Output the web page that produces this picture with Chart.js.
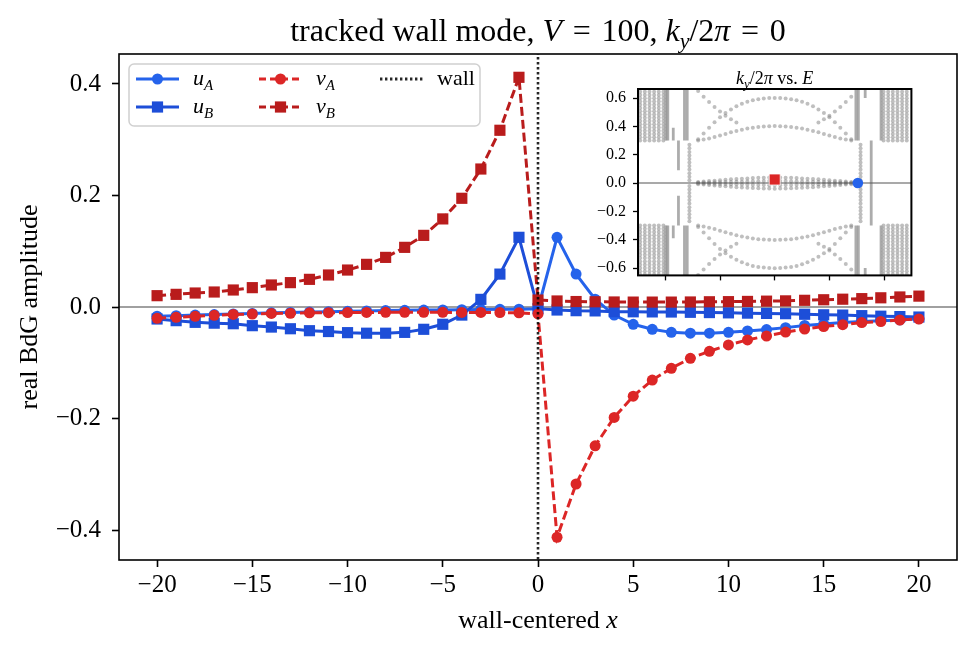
<!DOCTYPE html>
<html>
<head>
<meta charset="utf-8">
<script src="https://cdn.jsdelivr.net/npm/chart.js@4.4.1/dist/chart.umd.min.js"></script>
<style>
  html, body { margin: 0; padding: 0; background: #fff; }
  #wrap { position: relative; width: 974px; height: 650px; }
  #main { position: absolute; left: 0; top: 0; }
  #inset { position: absolute; left: 578px; top: 64px; }
</style>
</head>
<body>
<div id="wrap">
  <canvas id="main" width="974" height="650"></canvas>
  <canvas id="inset" width="342" height="228"></canvas>
</div>
<script>
// ---- main panel data (wall-centered x, real BdG amplitudes) ----
const xs = [-20,-19,-18,-17,-16,-15,-14,-13,-12,-11,-10,-9,-8,-7,-6,-5,-4,-3,-2,-1,
            0,1,2,3,4,5,6,7,8,9,10,11,12,13,14,15,16,17,18,19,20];
const uA = [-0.0165,-0.0155,-0.0145,-0.0135,-0.0125,-0.0115,-0.0105,-0.0098,-0.009,-0.0083,
            -0.0077,-0.007,-0.0064,-0.006,-0.0056,-0.0052,-0.0048,-0.0045,-0.0042,-0.004,
            -0.003,
            0.125,0.059,0.014,-0.0145,-0.031,-0.040,-0.0455,-0.047,-0.047,-0.0455,
            -0.043,-0.0405,-0.037,-0.033,-0.0305,-0.028,-0.026,-0.0245,-0.0232,-0.021];
const uB = [-0.0215,-0.0245,-0.0275,-0.029,-0.030,-0.0335,-0.036,-0.039,-0.0425,-0.044,
            -0.046,-0.047,-0.047,-0.0455,-0.040,-0.031,-0.0145,0.0137,0.059,0.125,
            -0.003,
            -0.0054,-0.0066,-0.007,-0.0084,-0.0086,-0.0088,-0.009,-0.0095,-0.010,-0.0105,
            -0.011,-0.0115,-0.012,-0.013,-0.014,-0.0145,-0.0155,-0.0165,-0.0172,-0.018];
const vA = [-0.0203,-0.0185,-0.0167,-0.015,-0.0133,-0.0126,-0.0116,-0.0112,-0.0105,-0.0102,
            -0.010,-0.0098,-0.0096,-0.0095,-0.0095,-0.0096,-0.0097,-0.0098,-0.0100,-0.0104,
            -0.0125,
            -0.413,-0.3175,-0.249,-0.198,-0.160,-0.131,-0.110,-0.092,-0.0795,-0.068,
            -0.059,-0.052,-0.045,-0.0395,-0.035,-0.0317,-0.028,-0.026,-0.0233,-0.0215];
const vB = [0.0203,0.0227,0.0251,0.0269,0.0305,0.0347,0.0395,0.0437,0.0496,0.0574,
            0.0663,0.0765,0.089,0.107,0.1285,0.158,0.195,0.2475,0.317,0.412,
            0.0125,
            0.0108,0.0098,0.0094,0.009,0.0088,0.0088,0.0088,0.009,0.0094,0.0096,
            0.010,0.0105,0.011,0.012,0.013,0.014,0.015,0.0165,0.018,0.0195];
const xTicks = [-20,-15,-10,-5,0,5,10,15,20];
const yTicks = [-0.4,-0.2,0,0.2,0.4];
const wallX = 0;

// ---- inset data (k_y/2pi vs E spectrum) ----
const kBulk = [-0.492,-0.475,-0.458,-0.441,-0.424,-0.407,0.398,0.415,0.432,0.449,0.466,0.483];
const eBulk = [0.30,0.323,0.346,0.369,0.392,0.415,0.438,0.461,0.484,0.507,0.53,0.553,0.576,0.599,0.622,0.645];
const kEdgeCols = [-0.312,0.314];
const eEdgeCols = [0.02,0.045,0.07,0.095,0.12,0.145,0.17,0.195,0.22,0.245,0.27];
const kMid = [-0.28,-0.26,-0.24,-0.22,-0.20,-0.18,-0.16,-0.14,-0.12,-0.10,-0.08,-0.06,-0.04,-0.02,0,
              0.02,0.04,0.06,0.08,0.10,0.12,0.14,0.16,0.18,0.20,0.22,0.24,0.26,0.28];
const bandHi = [0.31,0.35,0.39,0.43,0.465,0.495,0.52,0.542,0.56,0.574,0.585,0.592,0.597,0.6,0.601,
                0.6,0.597,0.592,0.585,0.574,0.56,0.542,0.52,0.495,0.465,0.43,0.39,0.35,0.31];
const bandLo = [0.30,0.307,0.315,0.325,0.336,0.347,0.358,0.368,0.377,0.385,0.391,0.396,0.399,0.401,0.402,
                0.401,0.399,0.396,0.391,0.385,0.377,0.368,0.358,0.347,0.336,0.325,0.315,0.307,0.30];
const bandV = [0.65,0.61,0.572,0.537,0.505,0.476,0.45,0.428,null,null,null,null,null,null,null,
               null,null,null,null,null,null,null,0.428,0.45,0.476,0.505,0.537,0.572,0.61];
const zeroHi = [0.008,0.011,0.014,0.017,0.02,0.023,0.026,0.029,0.031,0.033,0.035,0.037,0.038,0.039,0.04,
                0.039,0.038,0.037,0.035,0.033,0.031,0.029,0.026,0.023,0.02,0.017,0.014,0.011,0.008];
const zeroLo = [0.002,0.003,0.004,0.005,0.006,0.007,0.008,0.009,0.01,0.011,0.012,0.013,0.014,0.015,0.015,
                0.015,0.014,0.013,0.012,0.011,0.01,0.009,0.008,0.007,0.006,0.005,0.004,0.003,0.002];
// dense vertical runs of levels: [k, E from, E to]
const levelRuns = [
  [-0.398,0.30,0.67],[-0.391,0.30,0.67],[-0.398,-0.67,-0.30],[-0.391,-0.67,-0.30],
  [-0.371,0.30,0.39],[-0.371,-0.39,-0.30],[-0.352,0.09,0.30],[-0.352,-0.30,-0.09],
  [-0.330,0.30,0.67],[-0.320,0.30,0.67],[-0.330,-0.67,-0.30],[-0.320,-0.67,-0.30],
  [0.297,0.30,0.67],[0.306,0.30,0.67],[0.297,-0.67,-0.30],[0.306,-0.67,-0.30],
  [0.331,0.60,0.67],[0.331,-0.67,-0.60],[0.353,-0.30,0.30],
  [0.389,0.30,0.67],[0.389,-0.67,-0.30]
];
const trackedE = 0.025;      // red marker, k = 0
const wallModeK = 0.304;     // blue marker, E = 0
const insetYTicks = [-0.6,-0.4,-0.2,0,0.2,0.4,0.6];
const insetXTicks = [-0.4,-0.2,0,0.2,0.4];

const FAM = '"Liberation Serif", "Times New Roman", serif';
const BLUE_A = '#2563eb', BLUE_B = '#1d4ed8', RED_A = '#dc2626', RED_B = '#b91c1c';
const DASH = [9, 4];
const LW = 3;

const fmt = (v, d) => (v < -1e-9 ? '\u2212' : '') + Math.abs(v).toFixed(d);
const pts = arr => xs.map((x, i) => ({ x: x, y: arr[i] }));

// draws mixed roman / italic / subscript text
function rich(ctx, parts, x, y, size, align) {
  const font = st => (st === 'r' ? '' : 'italic ') + (st === 's' ? Math.round(size * 0.7) : size) + 'px ' + FAM;
  let w = 0;
  parts.forEach(([t, st]) => { ctx.font = font(st); w += ctx.measureText(t).width; });
  let cx = align === 'center' ? x - w / 2 : x;
  ctx.textAlign = 'left';
  parts.forEach(([t, st]) => {
    ctx.font = font(st);
    ctx.fillText(t, cx, st === 's' ? y + size * 0.22 : y);
    cx += ctx.measureText(t).width;
  });
}

function marker(ctx, kind, x, y, color) {
  ctx.fillStyle = color;
  ctx.beginPath();
  if (kind === 'circle') ctx.arc(x, y, 5.5, 0, Math.PI * 2);
  else ctx.rect(x - 5.6, y - 5.6, 11.2, 11.2);
  ctx.fill();
}

const legendItems = [
  { col: 0, row: 0, label: [['u', 'i'], ['A', 's']], color: BLUE_A, dash: [], mark: 'circle' },
  { col: 0, row: 1, label: [['u', 'i'], ['B', 's']], color: BLUE_B, dash: [], mark: 'rect' },
  { col: 1, row: 0, label: [['v', 'i'], ['A', 's']], color: RED_A, dash: [7, 4], mark: 'circle' },
  { col: 1, row: 1, label: [['v', 'i'], ['B', 's']], color: RED_B, dash: [7, 4], mark: 'rect' },
  { col: 2, row: 0, label: [['wall', 'r']], color: 'rgba(0,0,0,0.85)', dash: [2.4, 2.6], mark: null }
];

const mainDeco = {
  id: 'mainDeco',
  afterDatasetsDraw(chart) {
    const { ctx, chartArea: a } = chart;
    ctx.save();
    ctx.strokeStyle = '#000';
    ctx.lineWidth = 1.6;
    ctx.strokeRect(a.left, a.top, a.right - a.left, a.bottom - a.top);
    ctx.restore();
  },
  afterDraw(chart) {
    const { ctx, chartArea: a } = chart;
    const mid = (a.left + a.right) / 2;
    ctx.save();
    ctx.fillStyle = '#000';
    ctx.textBaseline = 'alphabetic';
    rich(ctx, [['tracked wall mode, ', 'r'], ['V', 'i'], ['\u2004=\u2004100, ', 'r'], ['k', 'i'], ['y', 's'],
               ['/2', 'r'], ['\u03c0', 'i'], ['\u2004=\u20040', 'r']], mid, 41, 32, 'center');
    rich(ctx, [['wall-centered ', 'r'], ['x', 'i']], mid, 628, 26, 'center');
    ctx.save();
    ctx.translate(37, (a.top + a.bottom) / 2);
    ctx.rotate(-Math.PI / 2);
    rich(ctx, [['real BdG amplitude', 'r']], 0, 0, 26, 'center');
    ctx.restore();

    // legend box
    const bx = 129, by = 64, bw = 351, bh = 62;
    ctx.fillStyle = 'rgba(255,255,255,0.85)';
    ctx.strokeStyle = '#d0d0d0';
    ctx.lineWidth = 1.5;
    ctx.beginPath();
    ctx.roundRect(bx, by, bw, bh, 5);
    ctx.fill();
    ctx.stroke();
    const colX = [136, 259, 380], rowY = [79, 107];
    legendItems.forEach(it => {
      const x0 = colX[it.col], y0 = rowY[it.row];
      ctx.strokeStyle = it.color;
      ctx.lineWidth = LW;
      ctx.setLineDash(it.dash);
      ctx.beginPath();
      ctx.moveTo(x0, y0);
      ctx.lineTo(x0 + 43, y0);
      ctx.stroke();
      ctx.setLineDash([]);
      if (it.mark) marker(ctx, it.mark, x0 + 21.5, y0, it.color);
      ctx.fillStyle = '#000';
      rich(ctx, it.label, x0 + 57, y0 + 6, 22, 'left');
    });
    ctx.restore();
  }
};

const lineDs = (label, data, color, style, radius, dash, order) => ({
  label, data, order,
  borderColor: color, backgroundColor: color,
  borderWidth: LW, borderDash: dash,
  pointStyle: style, pointRadius: radius, pointBorderWidth: 0,
  pointBackgroundColor: color, fill: false, tension: 0
});

new Chart(document.getElementById('main'), {
  type: 'line',
  data: {
    datasets: [
      { label: 'zero', data: [{ x: -30, y: 0 }, { x: 30, y: 0 }], borderColor: '#808080',
        borderWidth: 1.7, pointRadius: 0, order: 10, clip: 0 },
      lineDs('uA', pts(uA), BLUE_A, 'circle', 5.5, [], 5),
      lineDs('uB', pts(uB), BLUE_B, 'rect', 7.9, [], 4),
      lineDs('vA', pts(vA), RED_A, 'circle', 5.5, DASH, 3),
      lineDs('vB', pts(vB), RED_B, 'rect', 7.9, DASH, 2),
      { label: 'wall', data: [{ x: wallX, y: -1 }, { x: wallX, y: 1 }], borderColor: 'rgba(0,0,0,0.85)',
        borderWidth: 2.6, borderDash: [2.4, 2.6], pointRadius: 0, order: 1, clip: 0 }
    ]
  },
  options: {
    responsive: false,
    animation: false,
    events: [],
    layout: { padding: { left: 0, right: 17, top: 54, bottom: 0 } },
    plugins: { legend: { display: false }, tooltip: { enabled: false }, title: { display: false } },
    scales: {
      x: {
        type: 'linear', min: -22, max: 22,
        afterBuildTicks: s => { s.ticks = xTicks.map(v => ({ value: v })); },
        afterFit: s => { s.height = 90; },
        ticks: { callback: v => fmt(v, 0), font: { family: FAM, size: 25 }, color: '#000',
                 padding: 3, maxRotation: 0, autoSkip: false },
        grid: { drawOnChartArea: false, drawTicks: true, tickLength: 7, tickWidth: 1.6, tickColor: '#000' },
        border: { display: false }
      },
      y: {
        type: 'linear', min: -0.4538, max: 0.4538,
        afterBuildTicks: s => { s.ticks = yTicks.map(v => ({ value: v })); },
        afterFit: s => { s.width = 119; },
        ticks: { callback: v => fmt(v, 1), font: { family: FAM, size: 25 }, color: '#000', padding: 11 },
        grid: { drawOnChartArea: false, drawTicks: true, tickLength: 7, tickWidth: 1.6, tickColor: '#000' },
        border: { display: false }
      }
    }
  },
  plugins: [mainDeco]
});

// ---- inset ----
const GRAY_DOT = 'rgba(128,128,128,0.5)';
const dotPts = [];
kBulk.forEach(k => eBulk.forEach(e => { dotPts.push({ x: k, y: e }); dotPts.push({ x: k, y: -e }); }));
kEdgeCols.forEach(k => eEdgeCols.forEach(e => { dotPts.push({ x: k, y: e }); dotPts.push({ x: k, y: -e }); }));
[bandHi, bandLo, bandV, zeroHi, zeroLo].forEach(band => band.forEach((e, i) => {
  if (e === null) return;
  dotPts.push({ x: kMid[i], y: e });
  dotPts.push({ x: kMid[i], y: -e });
}));

const runSets = levelRuns.map(([k, e0, e1]) => ({
  type: 'line', data: [{ x: k, y: e0 }, { x: k, y: e1 }], borderColor: 'rgba(128,128,128,0.65)',
  borderWidth: 2.8, pointRadius: 0, order: 8
}));

const insetDeco = {
  id: 'insetDeco',
  beforeDatasetsDraw(chart) {
    const { ctx, chartArea: a } = chart;
    ctx.save();
    ctx.fillStyle = '#fff';
    ctx.fillRect(a.left, a.top, a.right - a.left, a.bottom - a.top);
    ctx.restore();
  },
  afterDatasetsDraw(chart) {
    const { ctx, chartArea: a } = chart;
    ctx.save();
    ctx.strokeStyle = '#000';
    ctx.lineWidth = 2;
    ctx.strokeRect(a.left, a.top, a.right - a.left, a.bottom - a.top);
    ctx.restore();
  },
  afterDraw(chart) {
    const { ctx, chartArea: a } = chart;
    ctx.save();
    ctx.fillStyle = '#000';
    rich(ctx, [['k', 'i'], ['y', 's'], ['/2', 'r'], ['\u03c0', 'i'], [' vs. ', 'r'], ['E', 'i']],
         (a.left + a.right) / 2, a.top - 5, 18, 'center');
    ctx.restore();
  }
};

new Chart(document.getElementById('inset'), {
  type: 'scatter',
  data: {
    datasets: [
      { data: dotPts, pointRadius: 2, pointBackgroundColor: GRAY_DOT, pointBorderWidth: 0, order: 9 },
      ...runSets,
      { type: 'line', data: [{ x: -1, y: 0 }, { x: 1, y: 0 }], borderColor: '#555', borderWidth: 1.1,
        pointRadius: 0, order: 3, clip: 0 },
      { data: [{ x: 0, y: trackedE }], pointStyle: 'rect', pointRadius: 7.8, pointBackgroundColor: RED_A,
        pointBorderColor: '#fff', pointBorderWidth: 0.8, order: 2 },
      { data: [{ x: wallModeK, y: 0 }], pointStyle: 'circle', pointRadius: 5.3, pointBackgroundColor: BLUE_A,
        pointBorderWidth: 0, order: 1 }
    ]
  },
  options: {
    responsive: false,
    animation: false,
    events: [],
    layout: { padding: { left: 0, right: 6, top: 25, bottom: 0 } },
    plugins: { legend: { display: false }, tooltip: { enabled: false } },
    scales: {
      x: {
        type: 'linear', min: -0.5, max: 0.5,
        afterBuildTicks: s => { s.ticks = insetXTicks.map(v => ({ value: v })); },
        afterFit: s => { s.height = 11; },
        ticks: { callback: () => '', font: { size: 1 } },
        grid: { drawOnChartArea: false, drawTicks: true, tickLength: 5, tickWidth: 1.3, tickColor: '#000' },
        border: { display: false }
      },
      y: {
        type: 'linear', min: -0.652, max: 0.664,
        afterBuildTicks: s => { s.ticks = insetYTicks.map(v => ({ value: v })); },
        afterFit: s => { s.width = 60; },
        ticks: { callback: v => fmt(v, 1), font: { family: FAM, size: 16 }, color: '#000', padding: 7 },
        grid: { drawOnChartArea: false, drawTicks: true, tickLength: 5, tickWidth: 1.3, tickColor: '#000' },
        border: { display: false }
      }
    }
  },
  plugins: [insetDeco]
});
</script>
</body>
</html>
